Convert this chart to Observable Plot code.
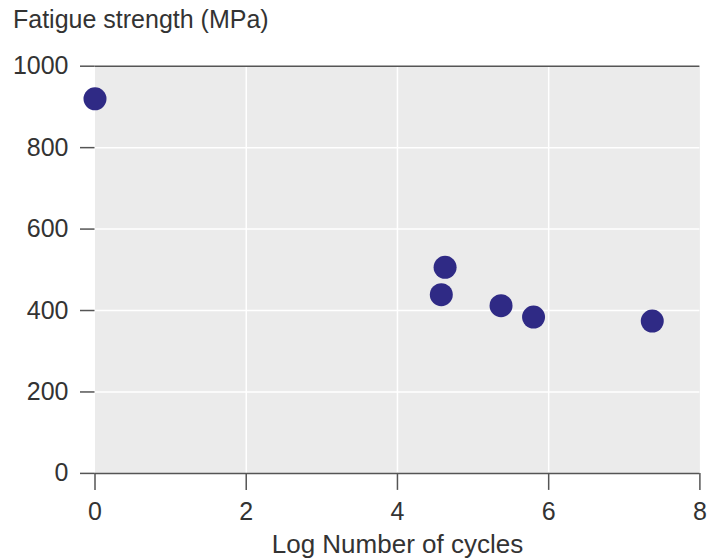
<!DOCTYPE html>
<html>
<head>
<meta charset="utf-8">
<script src="https://cdn.jsdelivr.net/npm/d3@7"></script>
<script src="https://cdn.jsdelivr.net/npm/@observablehq/plot@0.6"></script>
<style>
  html, body { margin: 0; padding: 0; background: #fff; }
</style>
</head>
<body>
<div id="chart"></div>
<script>
const logCycles = [0, 4.63, 4.58, 5.37, 5.80, 7.37];
const strength = [920, 506, 439, 412, 384, 374];
const xTicks = [0, 2, 4, 6, 8];
const yTicks = [0, 200, 400, 600, 800, 1000];
const titleText = "Fatigue strength (MPa)";
const xLabelText = "Log Number of cycles";

const data = logCycles.map((x, i) => ({x, y: strength[i]}));

const chart = Plot.plot({
  width: 710,
  height: 559,
  marginLeft: 94.5,
  marginRight: 10.6,
  marginTop: 65.7,
  marginBottom: 86.1,
  x: {domain: [0, 8]},
  y: {domain: [0, 1000]},
  style: {fontFamily: "'Liberation Sans', Arial, sans-serif", fontSize: "25px", background: "white", color: "#333"},
  marks: [
    Plot.frame({fill: "#ebebeb", stroke: null}),
    Plot.gridX(xTicks.slice(1, -1), {stroke: "white", strokeOpacity: 1, strokeWidth: 1.5}),
    Plot.gridY(yTicks.slice(1, -1), {stroke: "white", strokeOpacity: 1, strokeWidth: 1.5}),
    Plot.ruleY([0, 1000], {stroke: "#555", strokeWidth: 1.5}),
    Plot.axisY(yTicks, {tickSize: 14.5, tickPadding: 12, label: null, tickFormat: d => String(d), stroke: "#555", strokeWidth: 1.5, fontSize: 25}),
    Plot.axisX(xTicks, {tickSize: 17, tickPadding: 12, label: null, tickFormat: d => String(d), stroke: "#555", strokeWidth: 1.5, fontSize: 25}),
    Plot.dot(data, {x: "x", y: "y", r: 11.5, fill: "#2f2a85", stroke: null}),
    Plot.text([titleText], {frameAnchor: "top-left", text: d => d, textAnchor: "start", lineAnchor: "middle", dx: -82, dy: -46, fontSize: 25, fill: "#333"}),
    Plot.text([xLabelText], {frameAnchor: "bottom", text: d => d, textAnchor: "middle", lineAnchor: "middle", dy: 71, fontSize: 26, fill: "#333"})
  ]
});
document.getElementById("chart").appendChild(chart);
</script>
</body>
</html>
